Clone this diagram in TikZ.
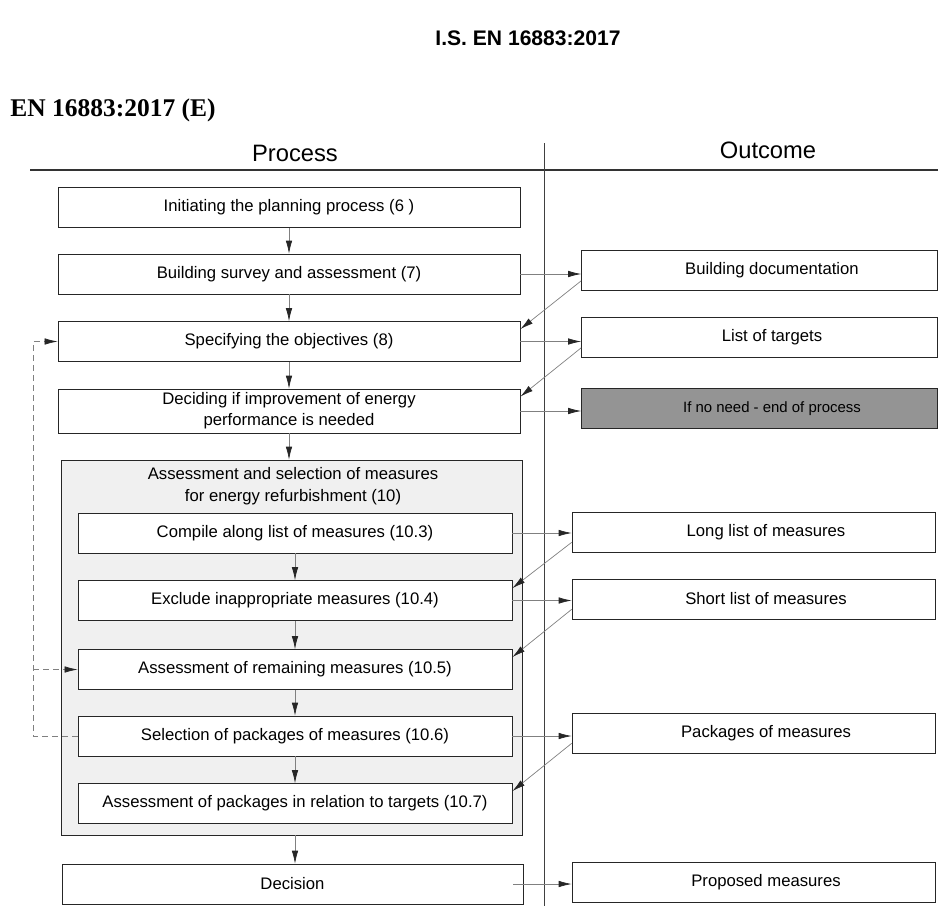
\documentclass[tikz,border=0pt]{standalone}
\usepackage{fontspec}
\setmainfont{Liberation Sans}
\newfontfamily\docfont{Liberation Serif}
\usetikzlibrary{arrows.meta,positioning}

\begin{document}
\begin{tikzpicture}[
          x=0.2mm, y=-0.2mm,
          stepbox/.style={rectangle, draw=black!85, fill=white, minimum width=92.4mm, minimum height=8mm, inner sep=0pt, align=center, font=\fontsize{9.5}{12}\selectfont},
          subbox/.style={stepbox, minimum width=86.8mm},
          result/.style={stepbox, minimum width=71.2mm},
          lowresult/.style={stepbox, minimum width=72.6mm},
          group/.style={rectangle, draw=black!85, fill=black!6, minimum width=92.2mm, minimum height=75mm, inner sep=0pt},
          heading/.style={font=\fontsize{13.5}{15}\selectfont},
          arrow/.style={-{Latex[length=2.6mm,width=1.3mm,color=black!85]}, draw=black!50, thin},
          feedback/.style={arrow, dash pattern=on 1.2mm off 0.8mm}
        ]
          \useasboundingbox (0,0) rectangle (938,906);

          % page header
          \node[font=\bfseries\fontsize{12}{14}\selectfont] (standard) at (528,38) {I.S. EN 16883:2017};
          \node[right, font=\docfont\bfseries\fontsize{14.5}{16}\selectfont, inner sep=0pt] (edition) at (10,110) {EN 16883:2017 (E)};

          % columns
          \node[heading] (process) at (295,153) {Process};
          \node[heading] (outcome) at (768,150) {Outcome};
          \draw[black!80, semithick] (30,170) -- (938,170);
          \draw[black!75, thin] (544,143) -- (544,906);

          % process steps
          \node[stepbox] (init) at (289,207.5) {Initiating the planning process (6 )};
          \node[stepbox] (survey) at (289,274) {Building survey and assessment (7)};
          \node[stepbox] (spec) at (289,341.5) {Specifying the objectives (8)};
          \node[stepbox, minimum height=8.8mm] (decide) at (289,411) {Deciding if improvement of energy\\performance is needed};

          \node[group] (assess) at (291.5,647.5) {};
          \node[align=center, font=\fontsize{9.5}{12.5}\selectfont] (assesstitle) at (293,486) {Assessment and selection of measures\\for energy refurbishment (10)};
          \node[subbox] (compile) at (295,533) {Compile along list of measures (10.3)};
          \node[subbox] (exclude) at (295,600.5) {Exclude inappropriate measures (10.4)};
          \node[subbox] (remain) at (295,669.5) {Assessment of remaining measures (10.5)};
          \node[subbox] (select) at (295,736) {Selection of packages of measures (10.6)};
          \node[subbox] (relate) at (295,803.5) {Assessment of packages in relation to targets (10.7)};

          \node[stepbox, minimum width=92.2mm] (decision) at (292.5,884) {Decision};

          % outcomes
          \node[result] (bdoc) at (759.5,270.5) {\hspace*{5mm}Building documentation};
          \node[result] (targets) at (759.5,337.5) {\hspace*{5mm}List of targets};
          \node[result, fill=black!42, font=\fontsize{8.5}{10}\selectfont] (noneed) at (759.5,408.5) {\hspace*{5mm}If no need - end of process};
          \node[lowresult] (longlist) at (753.5,532) {\hspace*{5mm}Long list of measures};
          \node[lowresult] (shortlist) at (753.5,599) {\hspace*{5mm}Short list of measures};
          \node[lowresult] (packages) at (753.5,733) {\hspace*{5mm}Packages of measures};
          \node[lowresult] (proposed) at (753.5,882) {\hspace*{5mm}Proposed measures};

          % main flow
          \draw[arrow] (init) -- (survey);
          \draw[arrow] (survey) -- (spec);
          \draw[arrow] (spec) -- (decide);
          \draw[arrow] (decide.south) -- (decide.south |- assess.north);
          \draw[arrow] (compile) -- (exclude);
          \draw[arrow] (exclude) -- (remain);
          \draw[arrow] (remain) -- (select);
          \draw[arrow] (select) -- (relate);
          \draw[arrow] (relate.south |- assess.south) -- (relate.south |- decision.north);

          % results out
          \draw[arrow] (survey.east) -- (survey.east -| bdoc.west);
          \draw[arrow] (spec.east) -- (spec.east -| targets.west);
          \draw[arrow] (decide.east) -- (decide.east -| noneed.west);
          \draw[arrow] (compile.east) -- (compile.east -| longlist.west);
          \draw[arrow] (exclude.east) -- (exclude.east -| shortlist.west);
          \draw[arrow] (select.east) -- (select.east -| packages.west);
          \draw[arrow] ([xshift=-2mm]decision.east) -- (decision.east -| proposed.west);

          % results back in
          \draw[arrow] ([yshift=2mm]bdoc.south west) -- ([yshift=-1.6mm]spec.north east);
          \draw[arrow] ([yshift=2mm]targets.south west) -- ([yshift=-1.6mm]decide.north east);
          \draw[arrow] ([yshift=2mm]longlist.south west) -- ([yshift=-1.6mm]exclude.north east);
          \draw[arrow] ([yshift=2mm]shortlist.south west) -- ([yshift=-1.6mm]remain.north east);
          \draw[arrow] ([yshift=2mm]packages.south west) -- ([yshift=-1.6mm]relate.north east);

          % feedback loop
          \coordinate (loopx) at (33,0);
          \draw[feedback] (select.west) -- (select.west -| loopx) |- (spec.west);
          \draw[feedback] (loopx |- remain.west) -- (remain.west);

        \end{tikzpicture}
\end{document}
